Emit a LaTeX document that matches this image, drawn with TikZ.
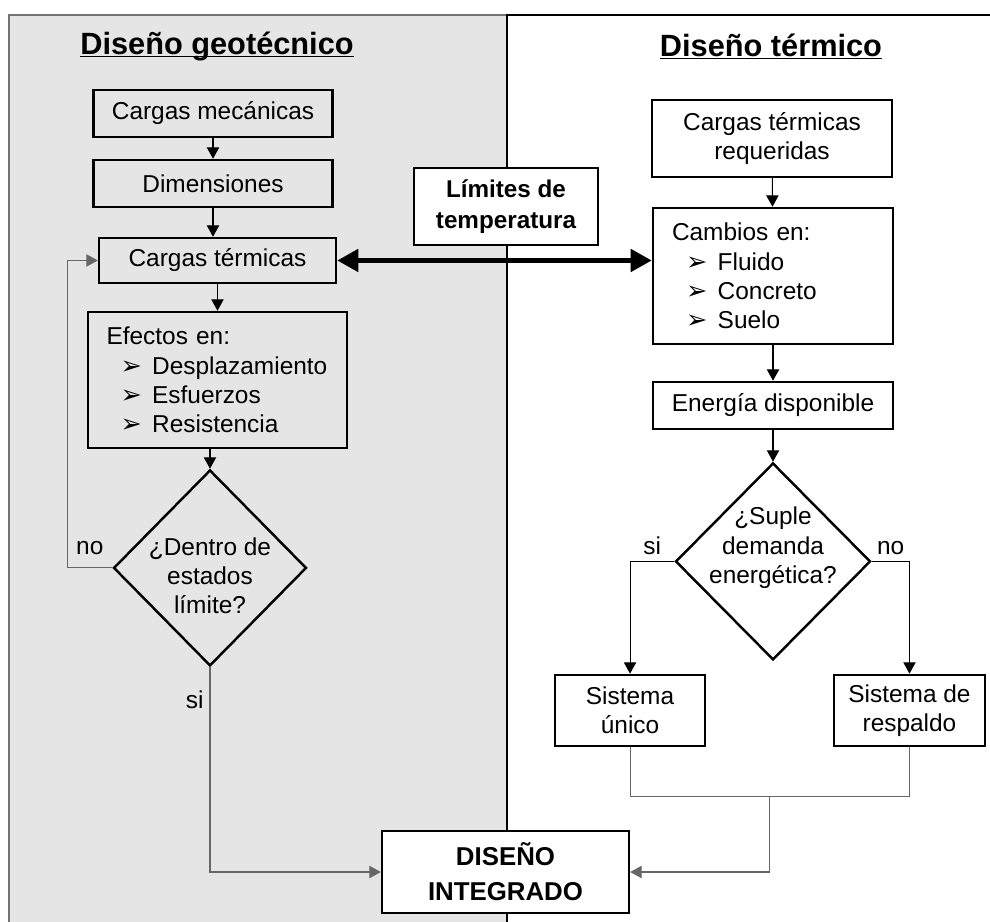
\documentclass[tikz,border=0pt]{standalone}
\usepackage{fontspec}
\setmainfont{Liberation Sans}
\newfontfamily\symfont{DejaVu Sans}
\usetikzlibrary{shapes.geometric, arrows.meta, calc}
\newcommand{\itm}[1]{\hspace*{8pt}\makebox[18pt][l]{\symfont\fontsize{14.5}{16.7}\selectfont ➢}#1}

\begin{document}
\begin{tikzpicture}[x=0.02cm, y=-0.02cm, font=\fontsize{13.9}{16.7}\selectfont]
    \tikzstyle{box} = [rectangle, draw, line width=1.4pt, align=center, minimum width=4.78cm, minimum height=0.94cm, inner sep=2pt]
    \tikzstyle{listbox} = [box, align=left, inner sep=0pt, minimum height=2.72cm]
    \tikzstyle{decision} = [diamond, draw, line width=1.4pt, minimum width=3.86cm, minimum height=3.92cm]
    \tikzstyle{keybox} = [box, fill=white, font=\fontsize{13.8}{18}\selectfont\bfseries]
    \tikzstyle{title} = [font=\fontsize{17.5}{20}\selectfont\bfseries]
    \tikzstyle{arrow} = [-{Triangle[length=6.5pt,width=7pt]}, line width=0.6pt]
    \tikzstyle{grayarrow} = [arrow, black!60]
    \tikzstyle{darrow} = [{Triangle[length=12pt,width=12.5pt]}-{Triangle[length=12pt,width=12.5pt]}, line width=2.8pt]

    \useasboundingbox (0,0) rectangle (990,921);

    % Panels
    \fill[black!10] (9,15) rectangle (507,930);
    \draw[black!55, line width=1.5pt] (9,930) -- (9,15) -- (507,15);
    \draw[line width=1.2pt] (507,930) -- (507,15) -- (1000,15);

    % Titles
    \node[title] (t1) at (217,56) {\underline{\smash{Diseño geotécnico}}};
    \node[title] (t2) at (771,58) {\underline{\smash{Diseño térmico}}};

    % Geotechnical design
    \node[box] (mec) at (213,113.5) {Cargas mecánicas};
    \node[box, below of=mec, node distance=1.4cm] (dim) {Dimensiones};
    \node[box, below of=dim, node distance=1.54cm, xshift=0.09cm, minimum height=0.9cm, minimum width=4.74cm] (cterm) {Cargas térmicas};
    \node[listbox, below of=cterm, node distance=2.39cm, minimum width=5.18cm, text width=4.44cm] (efe) {Efectos en:\\ \itm{Desplazamiento}\\ \itm{Esfuerzos}\\ \itm{Resistencia}};
    \node[decision, below of=efe, node distance=3.76cm, xshift=-0.15cm] (lim) {};
    \node[align=center, yshift=-0.16cm] (limtxt) at (lim) {¿Dentro de\\ estados\\ límite?};

    % Thermal design
    \node[box, minimum width=4.8cm, minimum height=1.54cm] (req) at (772,138.5) {Cargas térmicas\\ requeridas};
    \node[listbox, below of=req, node distance=2.75cm, xshift=0.02cm, minimum width=4.8cm, text width=4.04cm] (cam) {Cambios en:\\ \itm{Fluido}\\ \itm{Concreto}\\ \itm{Suelo}};
    \node[box, below of=cam, node distance=2.59cm, minimum width=4.8cm] (ene) {Energía disponible};
    \node[decision, below of=ene, node distance=3.12cm, minimum width=3.9cm, minimum height=3.94cm] (sup) {};
    \node[align=center, yshift=0.27cm] (suptxt) at (sup) {¿Suple\\ demanda\\ energética?};
    \node[box, below of=sup, node distance=2.98cm, xshift=-2.86cm, minimum width=3cm, minimum height=1.42cm] (uni) {Sistema\\ único};
    \node[box, right of=uni, node distance=5.59cm, minimum width=3.02cm, minimum height=1.42cm] (res) {Sistema de\\ respaldo};

    % Shared nodes
    \node[keybox, minimum width=3.68cm, minimum height=1.54cm] (tlim) at (506,206.5) {Límites de\\ temperatura};
    \node[keybox, minimum width=4.94cm, minimum height=1.64cm, font=\fontsize{14.7}{19.8}\selectfont\bfseries] (int) at (505.5,872) {DISEÑO\\ INTEGRADO};

    % Connections
    \draw[arrow] (mec) -- (dim);
    \draw[arrow] (dim.south) -- (dim.south |- cterm.north);
    \draw[arrow] (cterm) -- (efe);
    \draw[arrow] (efe.south -| lim.north) -- (lim.north);
    \draw[grayarrow] (lim.west) -- node[above=4pt, text=black] {no} ++(-45,0) |- (cterm.west);
    \draw[grayarrow] (lim.south) |- node[pos=0.08, left, text=black] {si} (int.west);
    \draw[darrow] (cterm.east) -- (cterm.east -| cam.west);

    \draw[arrow] (req) -- (cam);
    \draw[arrow] (cam) -- (ene);
    \draw[arrow] (ene) -- (sup);
    \draw[arrow] (sup.west) -| node[pos=0.25, above] {si} (uni.north);
    \draw[arrow] (sup.east) -| node[pos=0.25, above] {no} (res.north);
    \draw[black!60, line width=0.6pt] (uni.south) -- ++(0,49) coordinate (j1) -- (j1 -| res.south) -- (res.south);
    \coordinate (mrg) at ($(j1)!0.5!(j1 -| res.south)$);
    \draw[grayarrow] (mrg) |- (int.east);
\end{tikzpicture}
\end{document}
